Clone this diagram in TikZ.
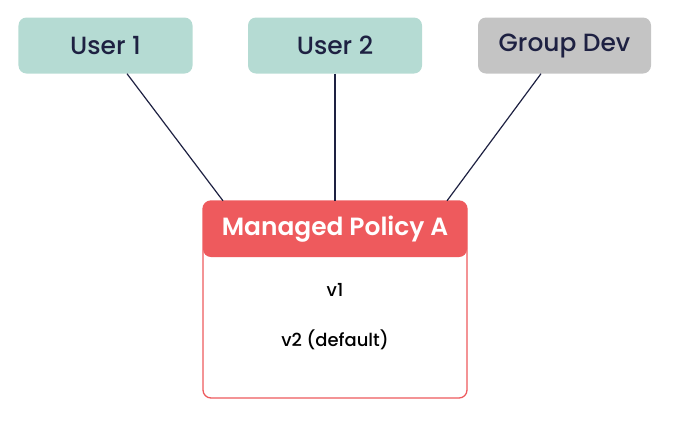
\documentclass[tikz,border=0pt]{standalone}
\usepackage{fontspec}
\setmainfont{Poppins}[UprightFont=* Medium, BoldFont=* SemiBold]
\usetikzlibrary{positioning}
\definecolor{tealbox}{HTML}{B5DBD3}
\definecolor{graybox}{HTML}{C4C4C4}
\definecolor{polred}{HTML}{EE5A5D}
\definecolor{navy}{HTML}{1E2142}
\tikzset{
  topbox/.style={rounded corners=8bp, minimum width=174bp, minimum height=56bp,
    inner sep=0pt, text=navy, font=\fontsize{25}{28}\selectfont},
  link/.style={draw=navy, line width=1.2bp},
  vertext/.style={text=black, font=\fontsize{18}{21}\selectfont, inner sep=0pt},
}
\begin{document}
\begin{tikzpicture}[x=1bp, y=-1bp]
\useasboundingbox (0,0) rectangle (673,426);
\node[topbox, fill=tealbox] (u1) at (105.5,45.5) {User 1};
\node[topbox, fill=tealbox] (u2) at (335,45.5) {User 2};
\node[topbox, fill=graybox, minimum width=173bp] (gd) at (564.5,45.5) {Group Dev};
\node[draw=polred, line width=1.3bp, fill=white, rounded corners=8bp,
  minimum width=264bp, minimum height=197bp, inner sep=0pt] (pol) at (335,299.5) {};
\node[fill=polred, rounded corners=8bp, minimum width=264bp, minimum height=56bp,
  inner sep=0pt, text=white, font=\bfseries\fontsize{25}{29}\selectfont] (head) at (335,229) {Managed Policy A};
\node[vertext] (v1) at (335,290) {v1};
\node[vertext] (v2) at (335,340) {v2 (default)};
\draw[link] ([xshift=21.5bp]u1.south) -- ([xshift=-112bp]head.north);
\draw[link] (u2.south) -- (head.north);
\draw[link] ([xshift=-23.5bp]gd.south) -- ([xshift=112bp]head.north);
\end{tikzpicture}
\end{document}
